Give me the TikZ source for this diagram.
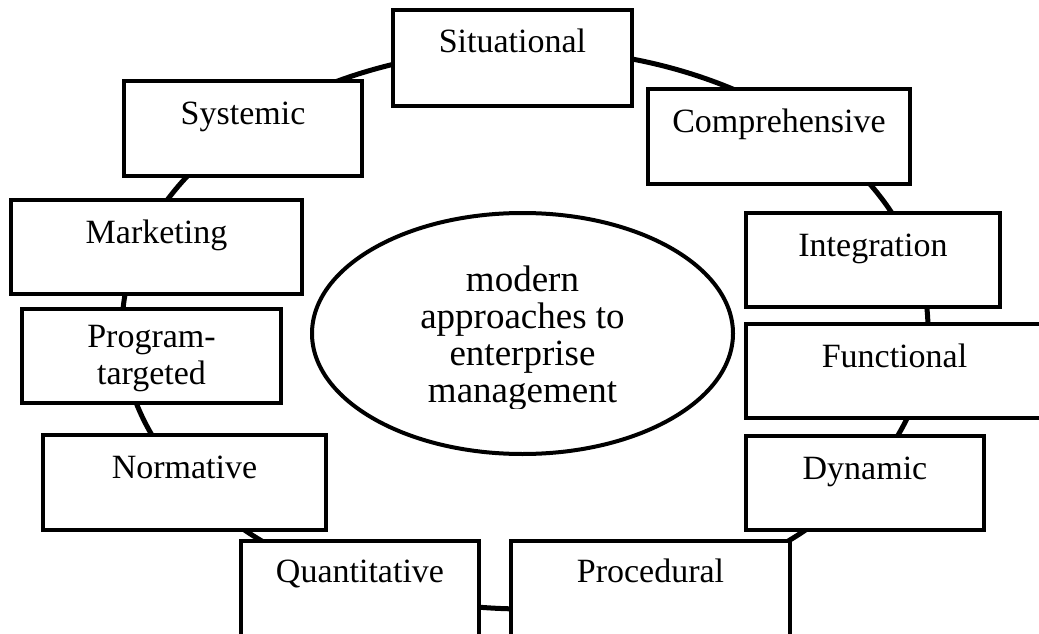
\documentclass[tikz,border=0pt]{standalone}
\usepackage{fontspec}
\setmainfont{Liberation Serif}
\usetikzlibrary{shapes.geometric,fit}
\begin{document}
\begin{tikzpicture}[x=1pt,y=-1pt,
  approach/.style={draw=black, line width=4pt, fill=white, rectangle,
    inner sep=0pt, outer sep=0pt},
  boxtext/.style={anchor=base, yshift=-43pt, inner sep=0pt,
    font=\fontsize{34}{37}\selectfont, align=center},
  ringline/.style={draw=black, line width=5pt, ellipse, inner sep=0pt},
  corestyle/.style={draw=black, line width=4pt, fill=white, ellipse, inner sep=0pt},
]
\fill[white] (0,0) rectangle (1039,634);
\useasboundingbox (0,0) rectangle (1039,634);
\clip (0,0) rectangle (1039,634);

% the ring that links all approaches
\node[ringline, minimum width=806pt, minimum height=560pt] (ring) at (525,329) {};

% approaches around the ring
\node[approach, fit={(393,10) (632,106)},
  label={[boxtext]north:Situational}] (situational) {};
\node[approach, fit={(648,89) (910,184)},
  label={[boxtext]north:Comprehensive}] (comprehensive) {};
\node[approach, fit={(746,213) (1000,307)},
  label={[boxtext]north:Integration}] (integration) {};
\node[approach, fit={(746,324) (1043,418)},
  label={[boxtext]north:Functional}] (functional) {};
\node[approach, fit={(746,436) (984,530)},
  label={[boxtext]north:Dynamic}] (dynamic) {};
\node[approach, fit={(511,541) (790,640)},
  label={[boxtext, yshift=2pt]north:Procedural}] (procedural) {};
\node[approach, fit={(241,541) (479,640)},
  label={[boxtext, yshift=2pt]north:Quantitative}] (quantitative) {};
\node[approach, fit={(43,435) (326,530)},
  label={[boxtext]north:Normative}] (normative) {};
\node[approach, fit={(22,309) (281,403)},
  label={[boxtext, yshift=-32pt]north:Program-\\targeted}] (program) {};
\node[approach, fit={(11,200) (302,294)},
  label={[boxtext]north:Marketing}] (marketing) {};
\node[approach, fit={(124,81) (362,176)},
  label={[boxtext]north:Systemic}] (systemic) {};

% central ellipse; its last line is cut just below the baseline
\node[corestyle, minimum width=421pt, minimum height=241pt] (core) at (522.5,333.5) {};
\begin{scope}
  \clip (300,200) rectangle (750,408);
  \node[anchor=base, inner sep=0pt, align=center,
    font=\fontsize{37}{36.7}\selectfont] (coretext) at (522.5,402)
    {modern\\approaches to\\enterprise\\management};
\end{scope}
\end{tikzpicture}
\end{document}
